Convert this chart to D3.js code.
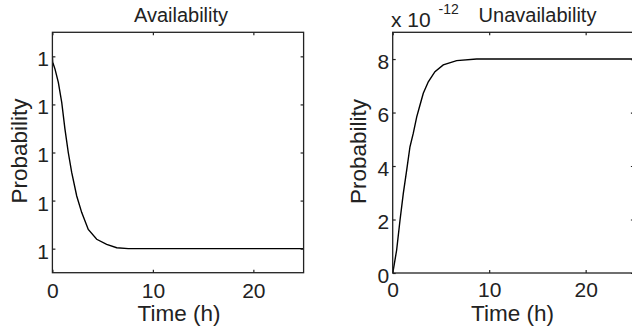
<!DOCTYPE html>
<html>
<head>
<meta charset="utf-8">
<script src="https://cdn.jsdelivr.net/npm/d3@7"></script>
<style>
  html, body { margin: 0; padding: 0; background: #fff; }
  svg { display: block; }
  text { font-family: "Liberation Sans", Arial, Helvetica, sans-serif; fill: #222; }
</style>
</head>
<body>
<svg id="chart" width="632" height="326"></svg>
<script>
// ---- Data ----
// Left panel: Availability vs time (h)
const availTime = [0, 0.03, 0.26, 0.59, 0.93, 1.25, 1.58, 1.92, 2.42, 2.92, 3.57, 4.41, 5.4, 6.4, 7.55, 25];
const availValues = [
  1,
  0.99999999999975,
  0.99999999999947,
  0.99999999999892,
  0.99999999999808,
  0.99999999999697,
  0.999999999996,
  0.99999999999517,
  0.99999999999419,
  0.9999999999935,
  0.9999999999928,
  0.99999999999239,
  0.99999999999218,
  0.99999999999204,
  0.999999999992,
  0.999999999992
];
// Right panel: Unavailability (x 10^-12) vs time (h)
const unavTime = [0, 0.06, 0.41, 0.76, 1.10, 1.45, 1.79, 2.13, 2.49, 2.83, 3.17, 3.69, 4.38, 5.24, 6.63, 8.7, 25];
const unavValues = [0, 0.11, 0.86, 1.98, 2.98, 3.85, 4.72, 5.22, 5.84, 6.28, 6.72, 7.15, 7.53, 7.78, 7.94, 8.0, 8.0];

// Axes settings
const timeDomain = [0, 25];
const timeTicks = [0, 10, 20];
const availDomain = [0.999999999991, 1.000000000001];
const availTickValues = [0.999999999992, 0.999999999994, 0.999999999996, 0.999999999998, 1];
const availTickLabels = ["1", "1", "1", "1", "1"];
const unavDomain = [0, 9];
const unavTicks = [0, 2, 4, 6, 8];
const unavExponent = "-12";

const titles = ["Availability", "Unavailability"];
const xLabel = "Time (h)";
const yLabel = "Probability";

// ---- Drawing ----
const svg = d3.select("#chart");
const TICK_FONT = 21, LABEL_FONT = 22.5, TITLE_FONT = 20;

function panel(cfg) {
  const g = svg.append("g");
  const x = d3.scaleLinear().domain(timeDomain).range(cfg.xr);
  const y = d3.scaleLinear().domain(cfg.yd).range(cfg.yr);
  const [x0, x1] = cfg.xr, [y0, y1] = cfg.yr; // y0 bottom, y1 top

  const clipId = "clip" + cfg.id;
  svg.append("clipPath").attr("id", clipId).append("rect")
    .attr("x", x0).attr("y", y1).attr("width", x1 - x0).attr("height", y0 - y1);

  const line = d3.line().x(d => x(d[0])).y(d => y(d[1]));
  g.append("path")
    .datum(cfg.xs.map((t, i) => [t, cfg.ys[i]]))
    .attr("clip-path", `url(#${clipId})`)
    .attr("d", line)
    .attr("fill", "none").attr("stroke", "#000").attr("stroke-width", 1.4);

  const bottom = g.append("g").attr("transform", `translate(0,${y0})`)
    .call(d3.axisBottom(x).tickValues(timeTicks).tickSizeInner(-3).tickSizeOuter(0).tickPadding(cfg.xpad));
  const top = g.append("g").attr("transform", `translate(0,${y1})`)
    .call(d3.axisTop(x).tickValues(timeTicks).tickSizeInner(-3).tickSizeOuter(0).tickFormat(""));
  const leftAx = d3.axisLeft(y).tickValues(cfg.yticks).tickSizeInner(-3).tickSizeOuter(0).tickPadding(3.5);
  if (cfg.ylabels) leftAx.tickFormat((d, i) => cfg.ylabels[i]);
  else leftAx.tickFormat(d3.format("d"));
  const left = g.append("g").attr("transform", `translate(${x0},0)`).call(leftAx);
  const right = g.append("g").attr("transform", `translate(${x1},0)`)
    .call(d3.axisRight(y).tickValues(cfg.yticks).tickSizeInner(-3).tickSizeOuter(0).tickFormat(""));

  [bottom, top, left, right].forEach(a => {
    a.select(".domain").remove();
    a.selectAll(".tick line").attr("stroke", "#222").attr("stroke-width", 1.2);
    a.selectAll(".tick text").attr("font-size", TICK_FONT).attr("fill", "#222")
      .style("font-family", '"Liberation Sans", Arial, sans-serif');
  });
  left.selectAll(".tick text").attr("dy", "0.45em");

  g.append("rect").attr("x", x0).attr("y", y1).attr("width", x1 - x0).attr("height", y0 - y1)
    .attr("fill", "none").attr("stroke", "#222").attr("stroke-width", 1.3);

  g.append("text").attr("x", cfg.xlabX).attr("y", 320.5).attr("text-anchor", "middle")
    .attr("font-size", LABEL_FONT).text(xLabel);
  g.append("text").attr("transform", `translate(${cfg.ylabX},${cfg.ylabY}) rotate(-90)`)
    .attr("text-anchor", "middle").attr("font-size", LABEL_FONT).text(yLabel);
  g.append("text").attr("x", cfg.titleX).attr("y", 22).attr("text-anchor", "middle")
    .attr("font-size", TITLE_FONT).attr("fill", "#333").text(cfg.title);
  return { g, x, y };
}

panel({
  id: "A", xr: [52.4, 303.6], yr: [272.7, 32.3], yd: availDomain,
  yticks: availTickValues, ylabels: availTickLabels,
  xs: availTime, ys: availValues, xpad: 10,
  xlabX: 179, ylabX: 26.5, ylabY: 151, titleX: 181, title: titles[0]
});

const pB = panel({
  id: "B", xr: [392.7, 633.9], yr: [273, 32.3], yd: unavDomain,
  yticks: unavTicks, ylabels: null,
  xs: unavTime, ys: unavValues, xpad: 9,
  xlabX: 512.5, ylabX: 365.5, ylabY: 151.5, titleX: 537.5, title: titles[1]
});

pB.g.append("text").attr("x", 391).attr("y", 27).attr("font-size", 21).text("x 10");
pB.g.append("text").attr("x", 438.5).attr("y", 14).attr("font-size", 14).text(unavExponent);
</script>
</body>
</html>
